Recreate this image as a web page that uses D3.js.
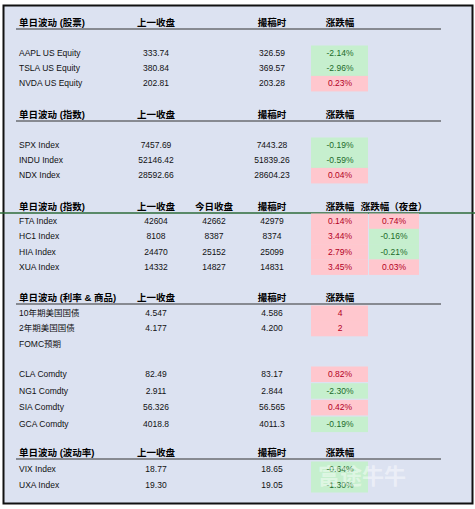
<!DOCTYPE html>
<html><head><meta charset="utf-8">
<script src="https://cdn.jsdelivr.net/npm/d3@7"></script>
<style>body{margin:0;background:#fff}text{font-family:"Liberation Sans","Noto Sans CJK SC",sans-serif}</style>
</head><body>
<script>
// section data
var stockNames = ["AAPL US Equity","TSLA US Equity","NVDA US Equity"];
var stockPrev = ["333.74","380.84","202.81"];
var stockNow = ["326.59","369.57","203.28"];
var stockChg = [-2.14,-2.96,0.23];

var usIdxNames = ["SPX Index","INDU Index","NDX Index"];
var usIdxPrev = ["7457.69","52146.42","28592.66"];
var usIdxNow = ["7443.28","51839.26","28604.23"];
var usIdxChg = [-0.19,-0.59,0.04];

var hkNames = ["FTA Index","HC1 Index","HIA Index","XUA Index"];
var hkPrev = ["42604","8108","24470","14332"];
var hkToday = ["42662","8387","25152","14827"];
var hkNow = ["42979","8374","25099","14831"];
var hkChg = [0.14,3.44,2.79,3.45];
var hkNight = [0.74,-0.16,-0.21,0.03];

var rateNames = ["10年期美国国债","2年期美国国债","FOMC预期"];
var ratePrev = ["4.547","4.177",""];
var rateNow = ["4.586","4.200",""];
var rateChg = [4,2,null];

var cmdNames = ["CLA Comdty","NG1 Comdty","SIA Comdty","GCA Comdty"];
var cmdPrev = ["82.49","2.911","56.326","4018.8"];
var cmdNow = ["83.17","2.844","56.565","4011.3"];
var cmdChg = [0.82,-2.30,0.42,-0.19];

var volNames = ["VIX Index","UXA Index"];
var volPrev = ["18.77","19.30"];
var volNow = ["18.65","19.05"];
var volChg = [-0.64,-1.30];

var W = 475, H = 509;
var svg = d3.select("body").append("svg").attr("width", W).attr("height", H);
svg.append("rect").attr("x",0).attr("y",0).attr("width",W).attr("height",H).attr("fill","#fff");
svg.append("rect").attr("x",3.5).attr("y",5.5).attr("width",469).attr("height",498)
  .attr("fill","#dce2f1").attr("stroke","#111").attr("stroke-width",2);

// columns
var col = {name:19, prev:156, today:214, now:272, chg:340, night:394};
var cellX = {chg:311, night:369};
var cellW = {chg:57, night:50};

function pctText(v){ return v.toFixed(2) + "%"; }

function header(y, title, cols, line){
  svg.append("text").attr("x",col.name).attr("y",y+4).attr("font-size",9.5).attr("font-weight","bold").text(title);
  cols.forEach(function(c){
    svg.append("text").attr("x",col[c[0]]).attr("y",y+4).attr("text-anchor","middle")
      .attr("font-size",9.5).attr("font-weight","bold").text(c[1]);
  });
  if(line==="green"){
    svg.append("line").attr("x1",0).attr("x2",W).attr("y1",y+7).attr("y2",y+7).attr("stroke","#2e6b3a").attr("stroke-width",1.5);
  } else if(line){
    svg.append("line").attr("x1",16).attr("x2",441).attr("y1",y+7).attr("y2",y+7).attr("stroke","#333").attr("stroke-width",1);
  }
}

function cell(key, y, v, fmt){
  if(v===null || v===undefined) return;
  var up = v > 0;
  svg.append("rect").attr("x",cellX[key]).attr("y",y-7.5).attr("width",cellW[key]).attr("height",15.5)
    .attr("fill", up ? "#ffc7ce" : "#c6efce");
  svg.append("text").attr("x",col[key]).attr("y",y+3).attr("text-anchor","middle").attr("font-size",8.5)
    .attr("fill", up ? "#b3001e" : "#1c6b2a").text(fmt(v));
}

function rows(y0, step, names, prev, today, now, chg, night, chgFmt){
  var y = d3.scaleLinear().domain([0,1]).range([y0, y0+step]);
  names.forEach(function(n,i){
    var yy = y(i);
    cell("chg", yy, chg[i], chgFmt || pctText);
    if(night) cell("night", yy, night[i], pctText);
    svg.append("text").attr("x",col.name).attr("y",yy+3).attr("font-size",8.5).attr("fill","#111").text(n);
    [["prev",prev],["today",today],["now",now]].forEach(function(p){
      if(!p[1]) return;
      svg.append("text").attr("x",col[p[0]]).attr("y",yy+3).attr("text-anchor","middle")
        .attr("font-size",8.5).attr("fill","#111").text(p[1][i]);
    });
  });
}

var stdCols = [["prev","上一收盘"],["now","撮稿时"],["chg","涨跌幅"]];
header(22, "单日波动 (股票)", stdCols, true);
rows(53, 15.2, stockNames, stockPrev, null, stockNow, stockChg);

header(114, "单日波动 (指数)", stdCols, true);
rows(145, 15.2, usIdxNames, usIdxPrev, null, usIdxNow, usIdxChg);

header(206, "单日波动 (指数)", [["prev","上一收盘"],["today","今日收盘"],["now","撮稿时"],["chg","涨跌幅"],["night","涨跌幅（夜盘）"]], "green");
rows(221, 15.3, hkNames, hkPrev, hkToday, hkNow, hkChg, hkNight);

header(297, "单日波动 (利率 & 商品)", stdCols, true);
rows(313, 15.3, rateNames, ratePrev, null, rateNow, rateChg, null, function(v){ return String(v); });

rows(374, 16.7, cmdNames, cmdPrev, null, cmdNow, cmdChg);

header(452, "单日波动 (波动率)", stdCols, true);
rows(469, 15.5, volNames, volPrev, null, volNow, volChg);

// watermark
svg.append("text").attr("x",318).attr("y",484).attr("font-size",22).attr("font-weight","bold")
  .attr("fill","#ffffff").attr("fill-opacity",0.45).text("富途牛牛");
</script>
</body></html>
